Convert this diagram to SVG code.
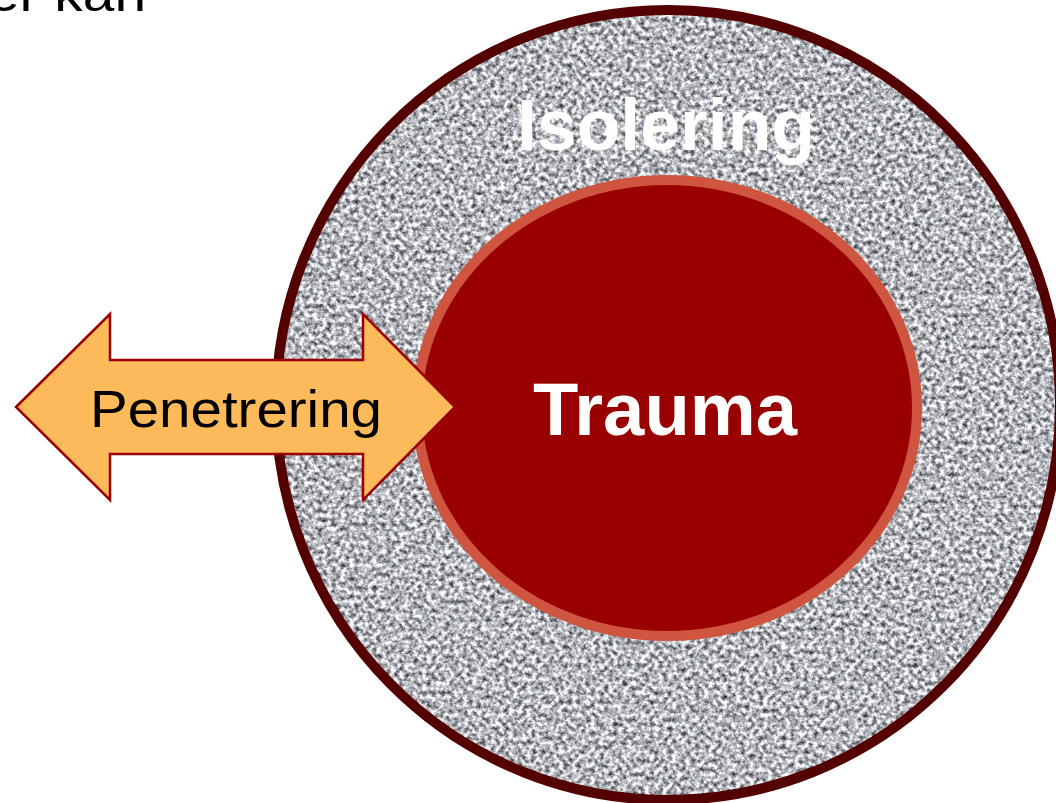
<svg xmlns="http://www.w3.org/2000/svg" width="1056" height="803" viewBox="0 0 1056 803">
<defs>
<style>
.lbl{font-family:"Liberation Sans",Arial,sans-serif;}
.white{fill:#ffffff;font-weight:bold;}
</style>
<filter id="granite" x="0" y="0" width="100%" height="100%" color-interpolation-filters="sRGB">
<feTurbulence type="fractalNoise" baseFrequency="0.22" numOctaves="3" seed="7" result="n"/>
<feColorMatrix in="n" type="matrix" values="1.45 0 0 0 -0.02  1.45 0 0 0 -0.01  1.45 0 0 0 0.01  0 0 0 0 1" result="g"/>
<feComposite in="g" in2="SourceGraphic" operator="in"/>
</filter>
</defs>
<rect width="1056" height="803" fill="#ffffff"/>
<text class="lbl" x="-12" y="11" font-size="50" fill="#000000" textLength="158" lengthAdjust="spacingAndGlyphs">er kan</text>
<g id="isolering">
<ellipse cx="668" cy="405" rx="392" ry="395" fill="#b4b8bb"/>
<ellipse cx="668" cy="405" rx="392" ry="395" fill="#b4b8bb" filter="url(#granite)"/>
<ellipse cx="668" cy="405" rx="392" ry="395" fill="none" stroke="#550000" stroke-width="10"/>
<text class="lbl white" x="666" y="150" font-size="73" text-anchor="middle" textLength="298" lengthAdjust="spacingAndGlyphs">Isolering</text>
</g>
<g id="trauma">
<ellipse cx="667" cy="408" rx="250" ry="228" fill="#990000" stroke="#cf5540" stroke-width="10"/>
<text class="lbl white" x="665" y="435" font-size="74" text-anchor="middle" textLength="264" lengthAdjust="spacingAndGlyphs">Trauma</text>
</g>
<g id="connectors">
<g id="penetrering">
<polygon points="16,407 110,314 110,360 363,360 363,314 455,407 363,500 363,454 110,454 110,500" fill="#fdba5a" stroke="#990000" stroke-width="2.5" stroke-linejoin="miter"/>
<text class="lbl" x="236" y="427" font-size="52" fill="#000000" text-anchor="middle" textLength="292" lengthAdjust="spacingAndGlyphs">Penetrering</text>
</g>
</g>
</svg>
